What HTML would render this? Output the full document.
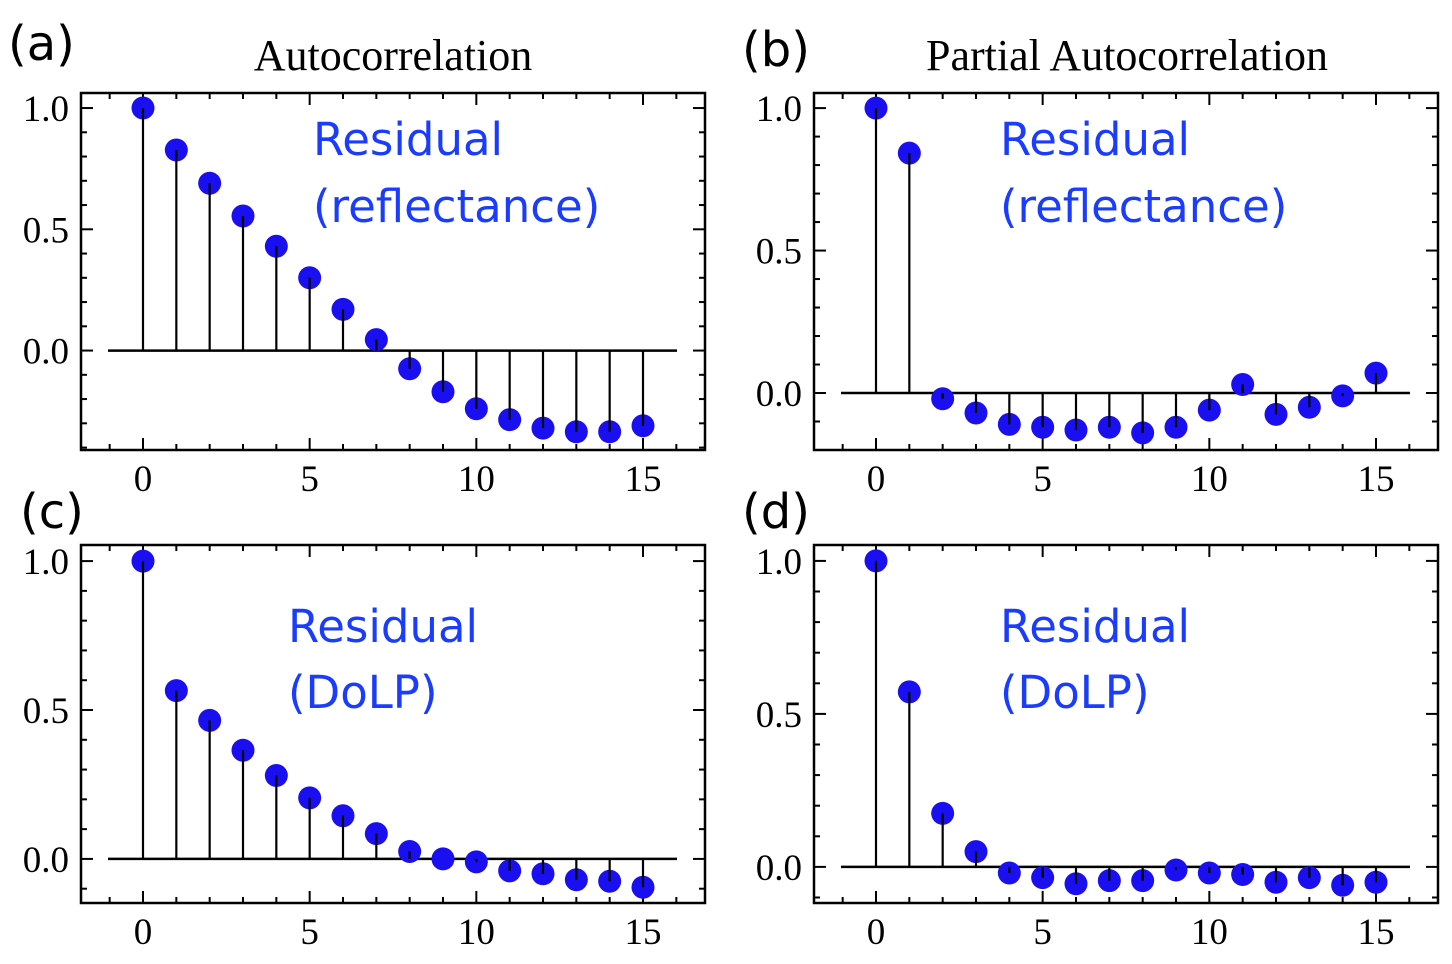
<!DOCTYPE html>
<html><head><meta charset="utf-8"><style>
body{margin:0;background:#fff;width:1452px;height:959px;overflow:hidden}
svg text{font-family:"Liberation Serif",serif}
</style></head><body>
<svg id="fig" width="1452" height="959" xmlns="http://www.w3.org/2000/svg"></svg>
<script>
const lags=[0,1,2,3,4,5,6,7,8,9,10,11,12,13,14,15];
const acfReflect=[1.0,0.827,0.69,0.555,0.43,0.30,0.17,0.045,-0.075,-0.17,-0.24,-0.285,-0.32,-0.335,-0.335,-0.31];
const pacfReflect=[1.0,0.842,-0.02,-0.07,-0.11,-0.12,-0.13,-0.12,-0.14,-0.12,-0.06,0.03,-0.075,-0.05,-0.01,0.07];
const acfDolp=[1.0,0.565,0.465,0.365,0.28,0.205,0.145,0.085,0.025,0.0,-0.01,-0.04,-0.05,-0.07,-0.075,-0.095];
const pacfDolp=[1.0,0.572,0.175,0.05,-0.02,-0.035,-0.055,-0.045,-0.045,-0.01,-0.02,-0.025,-0.05,-0.035,-0.06,-0.05];
const xTicks=[0,5,10,15];
const yTicks=[0.0,0.5,1.0];
const yTickLabels=["0.0","0.5","1.0"];

const NS="http://www.w3.org/2000/svg";
const fig=document.getElementById('fig');
function mk(tag,attrs,parent){const e=document.createElementNS(NS,tag);for(const k in attrs)e.setAttribute(k,attrs[k]);(parent||fig).appendChild(e);return e;}

const panels=[
 {id:'a',vals:acfReflect,L:81,T:93,R:705,B:450,ymin:-0.41,ymax:1.062,lab:'(a)',labX:8,labY:60,title:'Autocorrelation',titleX:393,text1:'Residual',text2:'(reflectance)',tx:313,ty1:155,ty2:222},
 {id:'b',vals:pacfReflect,L:814,T:93,R:1438,B:450,ymin:-0.2,ymax:1.053,lab:'(b)',labX:742,labY:66,title:'Partial Autocorrelation',titleX:1127,text1:'Residual',text2:'(reflectance)',tx:1000,ty1:155,ty2:222},
 {id:'c',vals:acfDolp,L:81,T:545,R:705,B:903,ymin:-0.148,ymax:1.054,lab:'(c)',labX:20,labY:528,text1:'Residual',text2:'(DoLP)',tx:288,ty1:642,ty2:708},
 {id:'d',vals:pacfDolp,L:814,T:545,R:1438,B:903,ymin:-0.118,ymax:1.052,lab:'(d)',labX:742,labY:528,text1:'Residual',text2:'(DoLP)',tx:1000,ty1:642,ty2:708}
];
const xmin=-1.86,xmax=16.86;
panels.forEach(p=>{
 const g=mk('g',{});
 
 
 const X=v=>p.L+(v-xmin)/(xmax-xmin)*(p.R-p.L);
 const Y=v=>p.B-(v-p.ymin)/(p.ymax-p.ymin)*(p.B-p.T);
 for(let i=-1;i<=16;i++){const x=X(i);const len=(i%5===0)?12:6;
  if(x<=p.L||x>=p.R)continue;
  mk('line',{x1:x,x2:x,y1:p.B,y2:p.B-len,stroke:'#000','stroke-width':2},g);
  mk('line',{x1:x,x2:x,y1:p.T,y2:p.T+len,stroke:'#000','stroke-width':2},g);}
 for(let k=-5;k<=10;k++){const v=k/10;if(v<p.ymin||v>p.ymax)continue;const y=Y(v);const len=(k%5===0)?12:6;
  mk('line',{x1:p.L,x2:p.L+len,y1:y,y2:y,stroke:'#000','stroke-width':2},g);
  mk('line',{x1:p.R,x2:p.R-len,y1:y,y2:y,stroke:'#000','stroke-width':2},g);}
 xTicks.forEach(t=>{const tl=mk('text',{x:X(t),y:p.B+41,'text-anchor':'middle','font-size':37},g);tl.textContent=t;
  
  });
 yTicks.forEach((t,i)=>{const tl=mk('text',{x:p.L-12,y:Y(t)+13,'text-anchor':'end','font-size':37},g);tl.textContent=yTickLabels[i];
  
  });
 const bl=mk('line',{x1:X(-1.05),x2:X(16.02),y1:Y(0),y2:Y(0),stroke:'#000','stroke-width':2.5},g);
 
 
 p.vals.forEach((v,i)=>{
  const c=mk('circle',{cx:X(lags[i]),cy:Y(v),r:11.5,fill:'#1a0ff0'},g);
  
  
 });
 p.vals.forEach((v,i)=>{
  const s=mk('line',{x1:X(lags[i]),x2:X(lags[i]),y1:Y(0),y2:Y(v),stroke:'#000','stroke-width':2.2},g);
  
  
 });
 const box=mk('rect',{x:p.L,y:p.T,width:p.R-p.L,height:p.B-p.T,fill:'none',stroke:'#000','stroke-width':2.5},g);
 
 
 const lab=mk('text',{x:p.labX,y:p.labY,'font-size':48,style:'font-family:"DejaVu Sans",sans-serif'},g);lab.textContent=p.lab;
 
 
 if(p.title){const t=mk('text',{x:p.titleX,y:70,'text-anchor':'middle','font-size':44},g);t.textContent=p.title;
  
  }
 [[p.text1,p.ty1],[p.text2,p.ty2]].forEach(([s,y])=>{const t=mk('text',{x:p.tx,y:y,'font-size':45,fill:'#1a3cff',style:'font-family:"DejaVu Sans",sans-serif'},g);t.textContent=s;
  
  });
});
</script>
</body></html>
